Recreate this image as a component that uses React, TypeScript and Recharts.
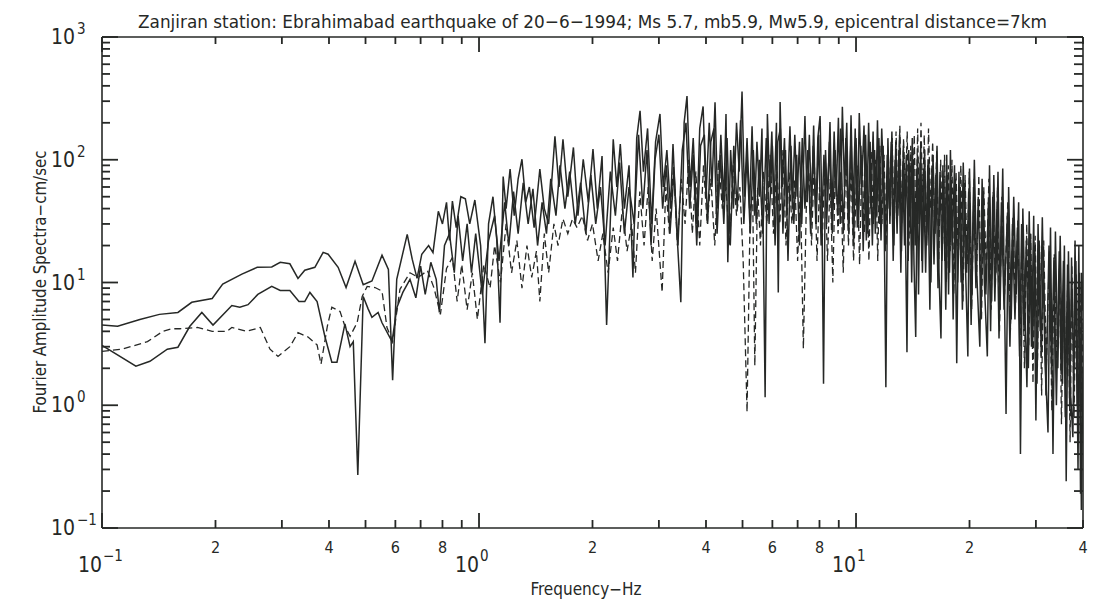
import React from 'react';
import { LineChart, Line, XAxis, YAxis } from 'recharts';

// Fourier amplitude spectra, [frequency Hz, amplitude cm/sec]
const SOLID_UPPER: [number, number][] = [
  [0.1, 4.5], [0.11, 4.4], [0.126, 5.0], [0.142, 5.5], [0.159, 5.7], [0.173, 6.9], [0.196, 7.4],
  [0.209, 9.7], [0.235, 11.7], [0.258, 13.3], [0.282, 13.4], [0.297, 14.6], [0.315, 14.2],
  [0.331, 10.8], [0.345, 12.6], [0.367, 13.3], [0.386, 17.6], [0.398, 17.0], [0.423, 13.3],
  [0.444, 9.1], [0.469, 14.9], [0.493, 9.6], [0.52, 10.3], [0.553, 16.7], [0.575, 12.8],
  [0.59, 1.6], [0.605, 10.6], [0.645, 24.7], [0.665, 15.5], [0.685, 10.8], [0.705, 17.0],
  [0.735, 20.0], [0.755, 17.5], [0.78, 38], [0.8, 30], [0.82, 45], [0.835, 22], [0.85, 46],
  [0.87, 28], [0.895, 50], [0.92, 48], [0.945, 30], [0.975, 47], [1.01, 20], [1.037, 3.2],
  [1.06, 30], [1.089, 50], [1.115, 22], [1.137, 4.7], [1.159, 73], [1.18, 40], [1.209, 84],
  [1.24, 35], [1.27, 70], [1.3, 101], [1.33, 45], [1.36, 60], [1.4, 28], [1.45, 84], [1.49, 40],
  [1.53, 30], [1.59, 155], [1.63, 60], [1.67, 147], [1.72, 50], [1.78, 126], [1.83, 35],
  [1.89, 101], [1.95, 45], [2.006, 122], [2.06, 40], [2.12, 107], [2.18, 4.5], [2.27, 147],
  [2.32, 60], [2.37, 134], [2.43, 40], [2.5, 90], [2.56, 11], [2.62, 150], [2.674, 250],
  [2.73, 80], [2.8, 180], [2.87, 30], [2.94, 140], [3.02, 236], [3.08, 60], [3.15, 120],
  [3.22, 40], [3.27, 134], [3.34, 30], [3.43, 6.9], [3.5, 200], [3.562, 330], [3.63, 60],
  [3.7, 150], [3.78, 30], [3.85, 180], [3.93, 272], [4.0, 50], [4.08, 200], [4.15, 60],
  [4.227, 294], [4.3, 40], [4.38, 160], [4.46, 45], [4.52, 236], [4.57, 14.6], [4.65, 120],
  [4.73, 40], [4.82, 200], [4.9, 80], [4.985, 360], [5.06, 50], [5.14, 150], [5.22, 40],
  [5.3, 187], [5.38, 35], [5.46, 140], [5.55, 50], [5.63, 180], [5.74, 1.16], [5.82, 236],
  [5.9, 60], [5.98, 170], [6.06, 40], [6.15, 200], [6.22, 8.3], [6.29, 296], [6.37, 60],
  [6.46, 150], [6.55, 35], [6.68, 187], [6.78, 40], [6.88, 160], [6.98, 50], [7.08, 140],
  [7.18, 30], [7.32, 227], [7.42, 45], [7.52, 160], [7.62, 40], [7.72, 190], [7.82, 30],
  [7.92, 150], [8.03, 227], [8.12, 40], [8.2, 1.5], [8.3, 120], [8.4, 45], [8.53, 203],
  [8.63, 35], [8.75, 170], [8.86, 50], [8.98, 220], [9.08, 30], [9.2, 270], [9.32, 60],
  [9.45, 200], [9.57, 25], [9.7, 230], [9.82, 40], [9.95, 180], [10.08, 28], [10.2, 240],
  [10.35, 60], [10.5, 190], [10.65, 22], [10.8, 200], [10.95, 40], [11.1, 170], [11.25, 25],
  [11.4, 210], [11.55, 30], [11.7, 180], [11.85, 60], [12.0, 1.4], [12.15, 150], [12.3, 30],
  [12.45, 170], [12.6, 20], [12.75, 140], [12.9, 35], [13.05, 160], [13.2, 18], [13.35, 130],
  [13.5, 40], [13.65, 2.7], [13.8, 120], [13.95, 25], [14.1, 150], [14.25, 14], [14.4, 3.6],
  [14.55, 110], [14.7, 30], [14.85, 130], [15.0, 12], [15.2, 120], [15.4, 20], [15.6, 100],
  [15.8, 10], [16.0, 110], [16.2, 25], [16.4, 130], [16.6, 12], [16.8, 3.5], [17.0, 90],
  [17.2, 15], [17.4, 110], [17.6, 8], [17.8, 120], [18.0, 20], [18.25, 90], [18.5, 2.2],
  [18.75, 80], [19.0, 10], [19.25, 95], [19.5, 15], [19.8, 2.5], [20.0, 85], [20.3, 8],
  [20.6, 100], [20.9, 12], [21.3, 3.0], [21.6, 70], [21.9, 10], [22.3, 2.5], [22.6, 90],
  [22.9, 7], [23.2, 75], [23.5, 12], [23.8, 80], [24.1, 6], [24.5, 85], [25.0, 0.85],
  [25.4, 60], [25.8, 5], [26.2, 50], [26.6, 8], [27.0, 45], [27.3, 0.4], [27.7, 40], [28.1, 5],
  [28.4, 1.4], [28.8, 38], [29.2, 3], [29.6, 35], [30.0, 0.75], [30.4, 30], [30.8, 4],
  [31.2, 34], [31.7, 2.5], [32.3, 0.6], [32.8, 28], [33.3, 0.4], [33.8, 26], [34.3, 2],
  [34.8, 24], [35.3, 1.5], [35.7, 20], [36.1, 0.24], [36.6, 18], [37.1, 1.2], [37.6, 0.55],
  [38.1, 22], [38.6, 1.0], [39.0, 20], [39.4, 0.19], [39.7, 12], [40.0, 6],
];

const SOLID_LOWER: [number, number][] = [
  [0.1, 3.08], [0.123, 2.08], [0.134, 2.28], [0.149, 2.86], [0.159, 2.97], [0.171, 4.4],
  [0.184, 5.7], [0.197, 4.5], [0.221, 6.5], [0.232, 6.3], [0.244, 6.6], [0.259, 8.0],
  [0.282, 9.3], [0.297, 8.6], [0.315, 8.6], [0.333, 7.0], [0.345, 7.0], [0.356, 8.3],
  [0.372, 7.0], [0.39, 3.65], [0.407, 2.24], [0.42, 2.24], [0.441, 4.6], [0.455, 3.0],
  [0.464, 3.3], [0.477, 0.27], [0.493, 7.7], [0.508, 6.1], [0.52, 5.2], [0.54, 5.7],
  [0.553, 4.7], [0.588, 3.3], [0.606, 6.3], [0.628, 8.3], [0.656, 10.6], [0.68, 7.5],
  [0.7, 13.6], [0.72, 8.0], [0.745, 14.6], [0.77, 10.6], [0.785, 5.7], [0.81, 20], [0.835, 25],
  [0.86, 12], [0.88, 35], [0.905, 15], [0.93, 30], [0.955, 12], [0.98, 25], [1.02, 8],
  [1.06, 22], [1.1, 35], [1.13, 15], [1.17, 45], [1.2, 20], [1.235, 55], [1.27, 25], [1.31, 65],
  [1.35, 30], [1.39, 58], [1.43, 20], [1.47, 45], [1.51, 25], [1.55, 70], [1.6, 35], [1.64, 90],
  [1.69, 40], [1.74, 80], [1.8, 30], [1.86, 65], [1.92, 25], [1.98, 75], [2.04, 30], [2.1, 60],
  [2.16, 20], [2.23, 80], [2.3, 35], [2.36, 95], [2.43, 25], [2.5, 60], [2.58, 30], [2.65, 160],
  [2.72, 40], [2.79, 120], [2.86, 20], [2.93, 100], [3.0, 160], [3.07, 40], [3.14, 90],
  [3.21, 25], [3.29, 80], [3.37, 20], [3.46, 120], [3.54, 200], [3.62, 40], [3.7, 110],
  [3.78, 20], [3.87, 130], [3.96, 160], [4.04, 30], [4.12, 140], [4.2, 180], [4.28, 25],
  [4.37, 110], [4.46, 30], [4.55, 150], [4.64, 20], [4.74, 130], [4.84, 40], [4.94, 210],
  [5.04, 30], [5.14, 110], [5.24, 25], [5.34, 120], [5.44, 30], [5.54, 100], [5.66, 25],
  [5.78, 150], [5.88, 30], [6.0, 130], [6.1, 20], [6.2, 140], [6.3, 180], [6.4, 25], [6.5, 120],
  [6.6, 15], [6.72, 130], [6.84, 30], [6.96, 110], [7.08, 20], [7.2, 150], [7.32, 40],
  [7.45, 120], [7.58, 25], [7.7, 130], [7.84, 30], [7.96, 160], [8.08, 20], [8.22, 110],
  [8.36, 30], [8.5, 140], [8.65, 25], [8.8, 120], [8.95, 35], [9.1, 180], [9.25, 25], [9.4, 150],
  [9.55, 30], [9.7, 160], [9.85, 20], [10.0, 150], [10.15, 30], [10.3, 130], [10.45, 18],
  [10.6, 160], [10.75, 25], [10.9, 140], [11.05, 20], [11.2, 120], [11.35, 35], [11.5, 150],
  [11.65, 22], [11.8, 130], [11.95, 18], [12.1, 110], [12.25, 40], [12.4, 140], [12.55, 15],
  [12.7, 100], [12.85, 25], [13.0, 120], [13.15, 12], [13.3, 90], [13.45, 20], [13.6, 110],
  [13.75, 15], [13.9, 95], [14.05, 10], [14.2, 100], [14.35, 20], [14.5, 85], [14.65, 8],
  [14.8, 95], [14.95, 15], [15.1, 80], [15.3, 12], [15.5, 90], [15.7, 6], [15.9, 85],
  [16.1, 14], [16.3, 75], [16.5, 9], [16.7, 80], [16.9, 15], [17.1, 70], [17.3, 6], [17.5, 75],
  [17.7, 12], [17.9, 65], [18.1, 5], [18.35, 70], [18.6, 10], [18.9, 60], [19.15, 6],
  [19.4, 65], [19.65, 12], [19.9, 55], [20.2, 4.5], [20.5, 60], [20.8, 9], [21.1, 50],
  [21.45, 5], [21.75, 55], [22.1, 8], [22.45, 45], [22.75, 4], [23.05, 50], [23.35, 7],
  [23.65, 40], [23.95, 3.5], [24.3, 45], [24.7, 6], [25.2, 35], [25.6, 3], [26.0, 30],
  [26.4, 5], [26.8, 28], [27.15, 2.5], [27.5, 30], [27.9, 4], [28.3, 22], [28.65, 2],
  [29.0, 25], [29.4, 3], [29.8, 20], [30.2, 1.5], [30.6, 22], [31.0, 2.5], [31.4, 18],
  [31.9, 1.2], [32.5, 20], [33.0, 2], [33.5, 16], [34.0, 1.0], [34.6, 18], [35.0, 1.8],
  [35.5, 15], [35.9, 0.8], [36.4, 14], [36.9, 0.9], [37.3, 16], [37.8, 1.5], [38.3, 15],
  [38.8, 0.3], [39.2, 12], [39.6, 0.14], [39.8, 0.6], [40.0, 2],
];

const DASHED: [number, number][] = [
  [0.1, 2.75], [0.113, 2.86], [0.132, 3.3], [0.145, 4.0], [0.153, 4.2], [0.161, 4.2],
  [0.179, 4.3], [0.196, 4.0], [0.2145, 4.0], [0.221, 4.3], [0.242, 4.0], [0.263, 4.3],
  [0.279, 2.86], [0.293, 2.5], [0.315, 3.0], [0.331, 3.9], [0.352, 3.6], [0.372, 3.1],
  [0.381, 2.16], [0.396, 4.4], [0.407, 6.3], [0.428, 5.8], [0.441, 4.4], [0.455, 3.65],
  [0.475, 4.7], [0.49, 7.7], [0.505, 9.3], [0.53, 9.1], [0.553, 8.5], [0.57, 4.3], [0.59, 3.3],
  [0.617, 8.8], [0.656, 12], [0.69, 11], [0.73, 12.5], [0.76, 9], [0.79, 5.5], [0.82, 13],
  [0.85, 16], [0.875, 7], [0.9, 14], [0.93, 6], [0.96, 12], [0.99, 5], [1.03, 14], [1.07, 9],
  [1.1, 20], [1.14, 10], [1.18, 30], [1.22, 12], [1.26, 22], [1.3, 9], [1.34, 20], [1.38, 11],
  [1.42, 18], [1.45, 7], [1.49, 25], [1.53, 12], [1.58, 30], [1.62, 20], [1.67, 33], [1.72, 25],
  [1.77, 33], [1.82, 28], [1.88, 35], [1.94, 22], [2.0, 30], [2.07, 15], [2.13, 25], [2.2, 12],
  [2.27, 28], [2.33, 15], [2.4, 40], [2.47, 18], [2.54, 30], [2.6, 12], [2.67, 55], [2.74, 20],
  [2.81, 60], [2.88, 15], [2.95, 40], [3.06, 8.3], [3.13, 60], [3.2, 25], [3.28, 90], [3.36, 20],
  [3.44, 70], [3.52, 30], [3.6, 100], [3.68, 25], [3.76, 80], [3.85, 20], [3.94, 90], [4.03, 30],
  [4.12, 70], [4.22, 20], [4.32, 100], [4.42, 40], [4.52, 60], [4.62, 20], [4.72, 90], [4.82, 35],
  [4.92, 60], [5.02, 15], [5.14, 0.88], [5.24, 40], [5.32, 50], [5.39, 2.1], [5.48, 60],
  [5.58, 20], [5.68, 80], [5.8, 30], [5.92, 110], [6.04, 25], [6.16, 90], [6.28, 30], [6.4, 120],
  [6.52, 20], [6.64, 80], [6.76, 30], [6.88, 70], [7.0, 15], [7.12, 60], [7.25, 2.9], [7.38, 40],
  [7.5, 80], [7.62, 20], [7.75, 100], [7.88, 15], [8.0, 60], [8.13, 20], [8.26, 90], [8.4, 15],
  [8.54, 70], [8.68, 10], [8.82, 100], [8.96, 25], [9.1, 80], [9.25, 12], [9.4, 120], [9.55, 20],
  [9.7, 90], [9.85, 15], [10.07, 90], [10.22, 14], [10.37, 110], [10.52, 25], [10.67, 90],
  [10.82, 15], [10.97, 120], [11.12, 30], [11.27, 100], [11.42, 15], [11.57, 130], [11.72, 30],
  [11.87, 110], [12.02, 20], [12.17, 120], [12.32, 35], [12.47, 150], [12.62, 25], [12.77, 170],
  [12.92, 40], [13.07, 190], [13.22, 30], [13.37, 150], [13.52, 50], [13.67, 170], [13.82, 20],
  [13.97, 130], [14.12, 40], [14.27, 160], [14.42, 25], [14.57, 180], [14.72, 30], [14.87, 200],
  [15.02, 45], [15.17, 160], [15.37, 20], [15.57, 180], [15.77, 40], [15.97, 140], [16.17, 25],
  [16.37, 120], [16.57, 15], [16.77, 100], [16.97, 20], [17.17, 110], [17.37, 10], [17.57, 90],
  [17.77, 18], [17.97, 100], [18.17, 8], [18.42, 80], [18.67, 15], [18.97, 90], [19.22, 7],
  [19.47, 75], [19.72, 14], [19.97, 80], [20.27, 6], [20.57, 70], [20.87, 10], [21.17, 75],
  [21.52, 5], [21.82, 60], [22.17, 12], [22.52, 70], [22.82, 6], [23.12, 55], [23.42, 9],
  [23.72, 60], [24.02, 4], [24.37, 50], [24.77, 8], [25.27, 45], [25.67, 4], [26.07, 35],
  [26.47, 6], [26.87, 32], [27.22, 3], [27.57, 28], [27.97, 2], [28.37, 30], [28.72, 3],
  [29.07, 25], [29.47, 1.5], [29.87, 24], [30.27, 2], [30.67, 20], [31.07, 1.2], [31.47, 22],
  [31.97, 2], [32.57, 18], [33.07, 0.9], [33.57, 17], [34.07, 2], [34.67, 14], [35.07, 0.7],
  [35.57, 13], [35.97, 1.5], [36.47, 12], [36.97, 0.5], [37.37, 14], [37.87, 0.8], [38.37, 12],
  [38.87, 0.6], [39.27, 10], [39.67, 0.9], [40.0, 5],
];

const X_TICKS = [0.1, 0.2, 0.3, 0.4, 0.5, 0.6, 0.7, 0.8, 0.9, 1, 2, 3, 4, 5, 6, 7, 8, 9, 10, 20, 30, 40];
const X_DIGIT_TICKS = [0.2, 0.4, 0.6, 0.8, 2, 4, 6, 8, 20, 40];
const X_DIGIT_TEXT = ['2', '4', '6', '8', '2', '4', '6', '8', '2', '4'];
const Y_TICKS = [
  0.1, 0.2, 0.3, 0.4, 0.5, 0.6, 0.7, 0.8, 0.9, 1, 2, 3, 4, 5, 6, 7, 8, 9,
  10, 20, 30, 40, 50, 60, 70, 80, 90, 100, 200, 300, 400, 500, 600, 700, 800, 900, 1000,
];
const DECADES = [0.1, 1, 10, 100, 1000];
const DECADE_EXP = ['\u22121', '0', '1', '2', '3'];

const TITLE = 'Zanjiran  station:  Ebrahimabad  earthquake  of  20\u22126\u22121994;  Ms  5.7,  mb5.9,  Mw5.9,  epicentral  distance=7km';

const FONT = "'DejaVu Sans Condensed', 'Liberation Sans Narrow', 'Liberation Sans', Arial, sans-serif";
const INK = '#262826';

// plot frame in page pixels
const PLOT = { left: 102, right: 1083, top: 37, bottom: 528 };
const X_DOMAIN: [number, number] = [0.1, 40];
const Y_DOMAIN: [number, number] = [0.1, 1000];

const toRows = (arr: [number, number][]) => arr.map(([f, v]) => ({ f, v }));

const near = (a: number, b: number) => Math.abs(a - b) < b * 1e-6;
const decadeIndex = (v: number) => DECADES.findIndex((d) => near(v, d));

// x ticks: inward marks on bottom and top edges, plus the bottom labels
function BottomTick(props: any) {
  const { x, payload } = props;
  const y = PLOT.bottom;
  const v = payload.value as number;
  const di = decadeIndex(v);
  const li = X_DIGIT_TICKS.findIndex((d) => near(v, d));
  const len = di >= 0 ? 15 : 8;
  return (
    <g>
      <rect x={x - 0.9} y={y - len} width={1.8} height={len} fill={INK} />
      <rect x={x - 0.9} y={PLOT.top} width={1.8} height={di >= 0 ? 15 : 7} fill={INK} />
      {di >= 0 && (
        <text fontFamily={FONT} fill={INK}>
          <tspan x={x} y={y + 44} fontSize={21} textAnchor="end">10</tspan>
          <tspan x={x + 1} y={y + 33} fontSize={15}>{DECADE_EXP[di]}</tspan>
        </text>
      )}
      {li >= 0 && (
        <text x={x} y={y + 25} fontSize={16} fontFamily={FONT} fill={INK} textAnchor="middle">
          {X_DIGIT_TEXT[li]}
        </text>
      )}
    </g>
  );
}

// y ticks: inward marks on left and right edges, plus the decade labels
function LeftTick(props: any) {
  const { y, payload } = props;
  const di = decadeIndex(payload.value);
  const len = di >= 0 ? 16 : 8;
  const rlen = di >= 0 ? 16 : 9;
  return (
    <g>
      <rect x={PLOT.left} y={y - 0.9} width={len} height={1.8} fill={INK} />
      <rect x={PLOT.right - rlen} y={y - 0.9} width={rlen} height={1.8} fill={INK} />
      {di >= 0 && (
        <text fontFamily={FONT} fill={INK}>
          <tspan x={75} y={y + 7} fontSize={21} textAnchor="end">10</tspan>
          <tspan x={77} y={y - 3} fontSize={15}>{DECADE_EXP[di]}</tspan>
        </text>
      )}
    </g>
  );
}

export default function App() {
  const upper = toRows(SOLID_UPPER);
  const lower = toRows(SOLID_LOWER);
  const dashed = toRows(DASHED);
  const axisLine = { stroke: INK, strokeWidth: 1.6 };

  return (
    <div style={{ position: 'absolute', left: 0, top: 0, width: 1094, height: 603, background: '#fff' }}>
      <LineChart width={1094} height={603} margin={{ top: 17, right: 1, bottom: 15, left: 42 }}>
        <XAxis
          xAxisId="b" dataKey="f" type="number" scale="log" domain={X_DOMAIN} allowDataOverflow
          ticks={X_TICKS} interval={0} height={60} tickLine={false}
          axisLine={axisLine} tick={<BottomTick />}
        />
        <XAxis
          xAxisId="t" orientation="top" dataKey="f" type="number" scale="log" domain={X_DOMAIN}
          allowDataOverflow ticks={X_TICKS} interval={0} height={20}
          tickLine={false} axisLine={axisLine} tick={false}
        />
        <YAxis
          yAxisId="l" type="number" scale="log" domain={Y_DOMAIN} allowDataOverflow
          ticks={Y_TICKS} interval={0} width={60} tickLine={false}
          axisLine={axisLine} tick={<LeftTick />}
        />
        <YAxis
          yAxisId="r" orientation="right" type="number" scale="log" domain={Y_DOMAIN}
          allowDataOverflow ticks={Y_TICKS} interval={0} width={10}
          tickLine={false} axisLine={axisLine} tick={false}
        />
        <Line
          xAxisId="b" yAxisId="l" data={dashed} dataKey="v" type="linear" dot={false}
          stroke={INK} strokeWidth={1.3} strokeDasharray="7 4" isAnimationActive={false}
        />
        <Line
          xAxisId="b" yAxisId="l" data={lower} dataKey="v" type="linear" dot={false}
          stroke={INK} strokeWidth={1.5} isAnimationActive={false}
        />
        <Line
          xAxisId="b" yAxisId="l" data={upper} dataKey="v" type="linear" dot={false}
          stroke={INK} strokeWidth={1.5} isAnimationActive={false}
        />
      </LineChart>
      <svg
        width={1094} height={603}
        style={{ position: 'absolute', left: 0, top: 0, pointerEvents: 'none' }}
      >
        <text
          x={138} y={28} fontSize={18} fontFamily={FONT} fill={INK}
          textLength={909} lengthAdjust="spacingAndGlyphs"
        >
          {TITLE}
        </text>
        <text
          x={586} y={595} fontSize={17} fontFamily={FONT} fill={INK} textAnchor="middle"
        >
          Frequency{'\u2212'}Hz
        </text>
        <text
          transform="translate(46, 282) rotate(-90)" x={0} y={0} fontSize={17} fontFamily={FONT}
          fill={INK} textAnchor="middle" textLength={263} lengthAdjust="spacingAndGlyphs"
        >
          Fourier  Amplitude  Spectra{'\u2212'}cm/sec
        </text>
      </svg>
    </div>
  );
}
